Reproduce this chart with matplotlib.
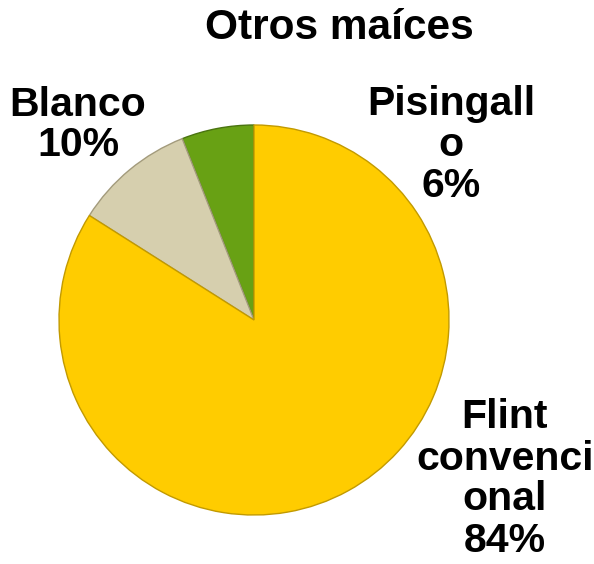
import matplotlib.pyplot as plt

# Shares of "otros maíces" (percent)
labels = ["Pisingall\no", "Blanco", "Flint\nconvenci\nonal"]
shares = [6, 10, 84]
colors = ["#68A114", "#D6CFAE", "#FFCC00"]
edges = ["#4A7410", "#A39B7C", "#C29A00"]

plt.rcParams["font.family"] = ["Liberation Sans", "DejaVu Sans"]

W, H = 594, 564
fig = plt.figure(figsize=(W / 100, H / 100), dpi=100)
ax = fig.add_axes([0, 0, 1, 1])

cx, cy, r = 254, H - 320, 195
wedges, _ = ax.pie(
    shares,
    colors=colors,
    startangle=90,
    counterclock=True,
    center=(cx, cy),
    radius=r,
    frame=True,
    wedgeprops={"linewidth": 1.0},
)
for w, ec in zip(wedges, edges):
    w.set_edgecolor(ec)
ax.set_xlim(0, W)
ax.set_ylim(0, H)
ax.set_aspect("equal")
ax.axis("off")

txt = dict(fontsize=29.5, fontweight="bold", ha="center", va="center",
           linespacing=1.1, color="black")
ax.text(339, H - 28, "Otros maíces", **dict(txt, fontsize=30.5))
ax.text(451, H - 145, f"{labels[0]}\n{shares[0]}%", **txt)
ax.text(78, H - 125, f"{labels[1]}\n{shares[1]}%", **txt)
ax.text(505, H - 479, f"{labels[2]}\n{shares[2]}%", **txt)

fig.savefig("out.png", dpi=100)
